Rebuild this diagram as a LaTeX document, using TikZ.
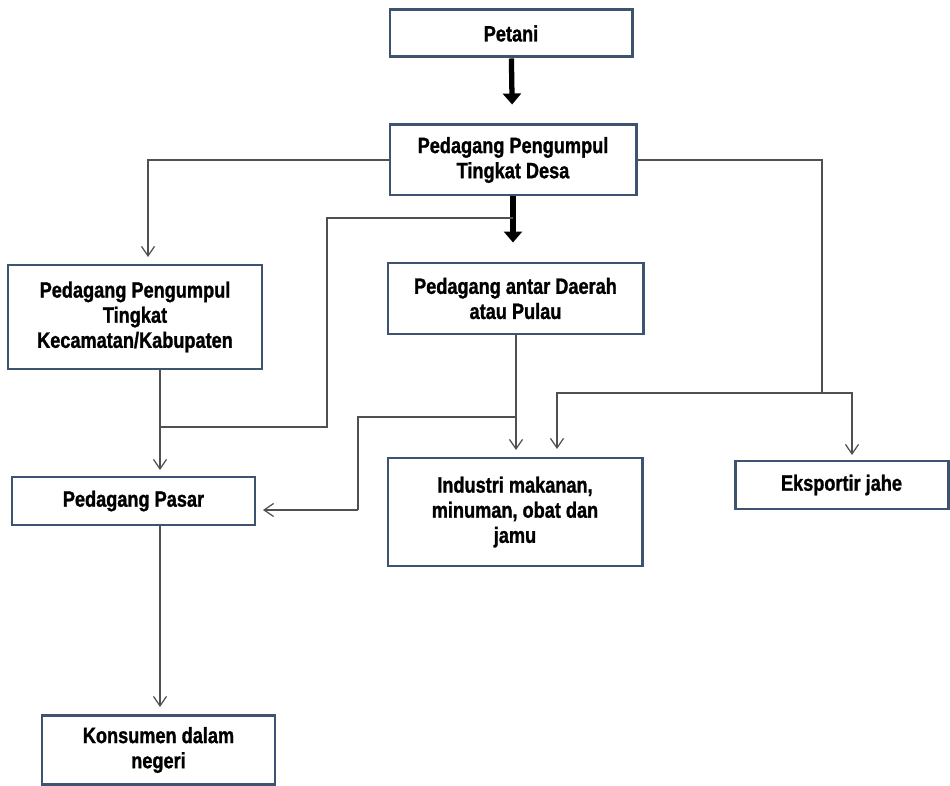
\documentclass[tikz,border=0pt]{standalone}
\usepackage{fontspec}
\setmainfont{Liberation Sans}[FakeStretch=0.82]
\newfontfamily\boxfont{Liberation Sans}[FakeStretch=0.82, FakeBold=1.2, BoldFont={* Bold}]
\usetikzlibrary{arrows.meta}

\definecolor{boxline}{RGB}{62,83,112}
\definecolor{linkgray}{RGB}{80,80,80}

\tikzset{
  flowbox/.style={draw=boxline, line width=1.7pt, fill=white, align=center,
    font=\boxfont\fontsize{12.6}{14.3}\selectfont\bfseries, inner sep=2pt},
  link/.style={draw=linkgray, line width=0.7pt, -{Straight Barb[length=1.9mm,width=2.6mm]}},
  line/.style={draw=linkgray, line width=0.7pt},
  bigarrow/.style={draw=black, line width=3pt, -{Triangle[length=2.2mm,width=3.6mm]}}
}

\begin{document}
\begin{tikzpicture}[x=0.02cm, y=-0.02cm]

      \useasboundingbox (0,0) rectangle (950,786);

      \begin{scope}[every node/.style={flowbox}]
        \node (petani)   at (511,33.5)  [minimum width=242*0.02cm, minimum height=47*0.02cm] {Petani};
        \node (desa)     at (513,160)   [minimum width=246*0.02cm, minimum height=70*0.02cm] {Pedagang Pengumpul\\Tingkat Desa};
        \node (kec)      at (135,317)   [minimum width=254*0.02cm, minimum height=104*0.02cm] {Pedagang Pengumpul\\Tingkat\\Kecamatan/Kabupaten};
        \node (antar)    at (515.5,298.5) [minimum width=255*0.02cm, minimum height=71*0.02cm] {Pedagang antar Daerah\\atau Pulau};
        \node (pasar)    at (133.5,501) [minimum width=243*0.02cm, minimum height=48*0.02cm] {Pedagang Pasar};
        \node (industri) at (515,512)   [minimum width=254*0.02cm, minimum height=108*0.02cm] {Industri makanan,\\minuman, obat dan\\jamu};
        \node (ekspor)   at (841.5,485) [minimum width=213*0.02cm, minimum height=48*0.02cm] {Eksportir jahe};
        \node (konsumen) at (158.5,750) [minimum width=233*0.02cm, minimum height=69*0.02cm] {Konsumen dalam\\negeri};
      \end{scope}

      % where the thin lines bend or end
      \coordinate (kecin)   at (148,257);
      \coordinate (rsplit)  at (822,393);
      \coordinate (eksin)   at (852,455);
      \coordinate (indin2)  at (557,449);
      \coordinate (indin1)  at (516,450);
      \coordinate (tap1)    at (513,218);
      \coordinate (bend1)   at (327,427);
      \coordinate (pasarin) at (160,470);
      \coordinate (tap2)    at (516,417);
      \coordinate (bend2)   at (358,510);
      \coordinate (pasarR)  at (263,510);
      \coordinate (konin)   at (160,707);

      \draw[bigarrow, shorten >=0.38cm] (petani) -- (desa);
      \draw[bigarrow, shorten >=0.38cm] (desa.south) -- (desa.south |- antar.north);

      \draw[link] (desa.west) -| (kecin);
      \draw[line] (desa.east) -| (rsplit);
      \draw[link] (rsplit) -| (eksin);
      \draw[link] (rsplit) -| (indin2);

      \draw[link] (kec.south -| pasarin) -- (pasarin);
      \draw[line] (tap1) -| (bend1) -- (bend1 -| pasarin);

      \draw[link] (antar.south -| indin1) -- (indin1);
      \draw[line] (tap2) -| (bend2);
      \draw[link] (bend2) -- (pasarR);

      \draw[link] (pasar.south -| konin) -- (konin);

\end{tikzpicture}
\end{document}
